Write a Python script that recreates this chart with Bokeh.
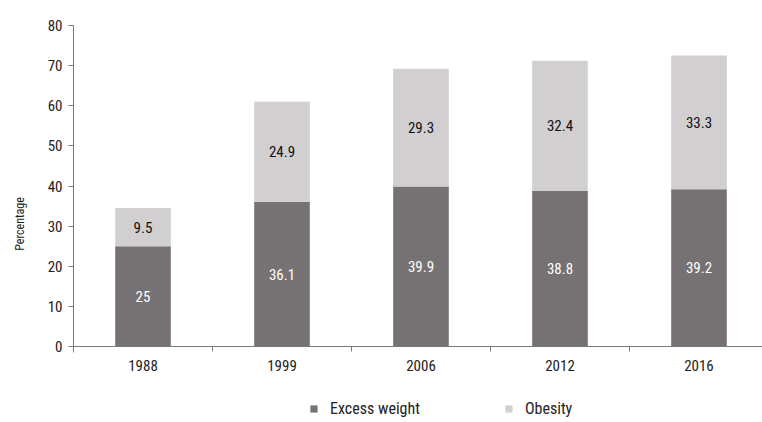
from bokeh.plotting import figure
from bokeh.models import (ColumnDataSource, FixedTicker, Range1d, Legend, LegendItem,
                          LinearAxis)
from bokeh.core.properties import value
from bokeh.embed import file_html
from bokeh.resources import INLINE

years = ["1988", "1999", "2006", "2012", "2016"]
excess_weight = [25, 36.1, 39.9, 38.8, 39.2]
obesity = [9.5, 24.9, 29.3, 32.4, 33.3]
y_ticks = [0, 10, 20, 30, 40, 50, 60, 70, 80]

FONT = "Roboto Condensed"
DARK = "#767172"
LIGHT = "#d1cfd0"
AXIS = "#7a7a7a"

xs = list(range(len(years)))
src = ColumnDataSource(dict(
    x=xs,
    excess=excess_weight,
    obesity=obesity,
    excess_mid=[e / 2 for e in excess_weight],
    obesity_mid=[e + o / 2 for e, o in zip(excess_weight, obesity)],
    excess_lbl=[("%g" % v) for v in excess_weight],
    obesity_lbl=[("%g" % v) for v in obesity],
))

# frame spans the whole lower area so the legend can sit inside it;
# the x axis is pinned at y = 0
p = figure(width=762, height=422, output_backend="svg", toolbar_location=None,
           x_range=Range1d(-0.5, 4.457), y_range=Range1d(-18.94, 80),
           x_axis_location=None,
           min_border_top=25, min_border_left=73, min_border_right=0, min_border_bottom=0)
p.outline_line_color = None
p.grid.visible = False
p.background_fill_color = "white"
p.border_fill_color = "white"

r = p.vbar_stack(["excess", "obesity"], x="x", width=0.4, source=src,
                 color=[DARK, LIGHT], line_color=None)

p.text(x="x", y="excess_mid", text="excess_lbl", source=src, text_color="white",
       text_align="center", text_baseline="middle", text_font=value(FONT), text_font_size="15px")
p.text(x="x", y="obesity_mid", text="obesity_lbl", source=src, text_color="#111111",
       text_align="center", text_baseline="middle", text_font=value(FONT), text_font_size="15px")

# x axis: labels at category centres, ticks between categories
xaxis = LinearAxis(fixed_location=0,
                   ticker=FixedTicker(ticks=xs, minor_ticks=[i + 0.5 for i in xs]),
                   major_label_overrides={i: y for i, y in zip(xs, years)},
                   major_tick_out=0, major_tick_in=0,
                   minor_tick_out=5, minor_tick_in=0,
                   axis_line_color=AXIS, minor_tick_line_color=AXIS,
                   major_label_text_font=FONT, major_label_text_font_size="15px",
                   major_label_text_color="#222222", major_label_standoff=8)
p.add_layout(xaxis, "below")

p.yaxis.ticker = FixedTicker(ticks=y_ticks)
p.yaxis.bounds = (-1.5, 80)
p.yaxis.minor_tick_line_color = None
p.yaxis.major_tick_out = 5
p.yaxis.major_tick_in = 0
p.yaxis.axis_line_color = AXIS
p.yaxis.major_tick_line_color = AXIS
p.yaxis.major_label_text_font = FONT
p.yaxis.major_label_text_font_size = "15px"
p.yaxis.major_label_text_color = "#222222"
p.yaxis.major_label_standoff = 6
p.yaxis.axis_label = "Percentage"
p.yaxis.axis_label_text_font = FONT
p.yaxis.axis_label_text_font_size = "12px"
p.yaxis.axis_label_text_font_style = "normal"
p.yaxis.axis_label_text_color = "#222222"
p.yaxis.axis_label_standoff = 18

legend = Legend(items=[LegendItem(label="Excess weight", renderers=[r[0]]),
                       LegendItem(label="Obesity", renderers=[r[1]])],
                orientation="horizontal", location=(236, 4),
                glyph_width=9, glyph_height=9, spacing=84, label_standoff=12,
                label_text_font=FONT, label_text_font_size="16px",
                label_text_color="#222222", border_line_color=None,
                background_fill_alpha=0, margin=0, padding=4)
p.add_layout(legend, "center")

open("out.html", "w").write(file_html(p, INLINE))
